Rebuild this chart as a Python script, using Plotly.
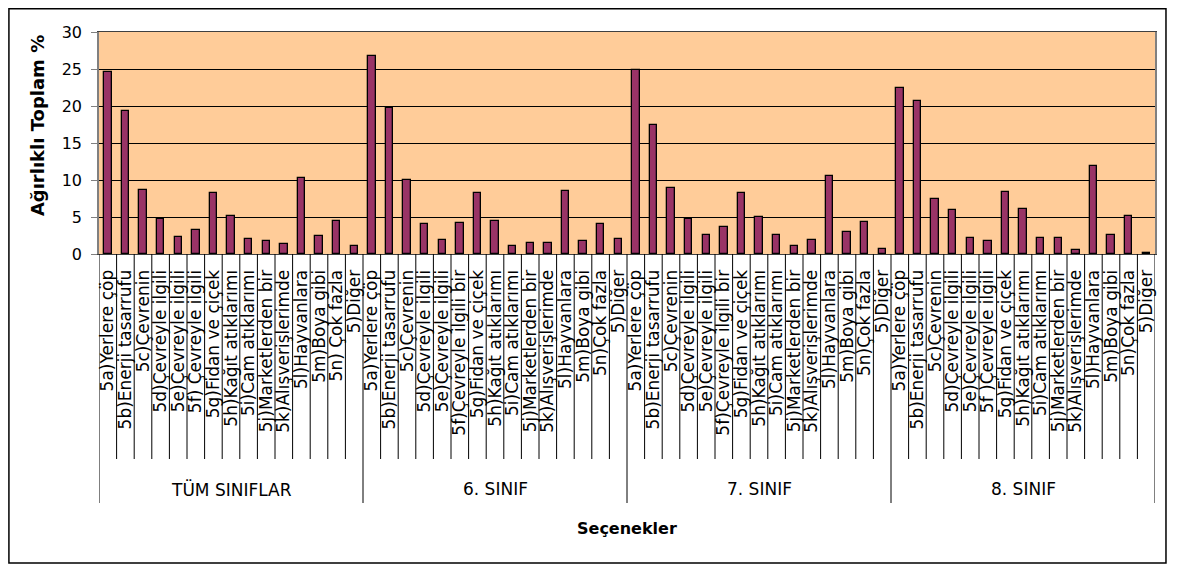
import plotly.graph_objects as go

groups = ["TÜM SINIFLAR", "6. SINIF", "7. SINIF", "8. SINIF"]

labels_tum = ["5a)Yerlere çöp", "5b)Enerji tasarrufu", "5c)Çevrenin", "5d)Çevreyle ilgili",
              "5e)Çevreyle ilgili", "5f) Çevreyle ilgili", "5g)Fidan ve çiçek", "5h)Kağıt atıklarımı",
              "5i)Cam atıklarımı", "5j)Marketlerden bir", "5k)Alışverişlerimde", "5l)Hayvanlara",
              "5m)Boya gibi", "5n) Çok fazla", "5)Diğer"]
labels_6 = ["5a)Yerlere çöp", "5b)Enerji tasarrufu", "5c)Çevrenin", "5d)Çevreyle ilgili",
            "5e)Çevreyle ilgili", "5f)Çevreyle ilgili bir", "5g)Fidan ve çiçek", "5h)Kağıt atıklarımı",
            "5i)Cam atıklarımı", "5j)Marketlerden bir", "5k)Alışverişlerimde", "5l)Hayvanlara",
            "5m)Boya gibi", "5n)Çok fazla", "5)Diğer"]
labels_7 = ["5a)Yerlere çöp", "5b)Enerji tasarrufu", "5c)Çevrenin", "5d)Çevreyle ilgili",
            "5e)Çevreyle ilgili", "5f)Çevreyle ilgili bir", "5g)Fidan ve çiçek", "5h)Kağıt atıklarımı",
            "5i)Cam atıklarımı", "5j)Marketlerden bir", "5k)Alışverişlerimde", "5l)Hayvanlara",
            "5m)Boya gibi", "5n)Çok fazla", "5)Diğer"]
labels_8 = ["5a)Yerlere çöp", "5b)Enerji tasarrufu", "5c)Çevrenin", "5d)Çevreyle ilgili",
            "5e)Çevreyle ilgili", "5f )Çevreyle ilgili", "5g)Fidan ve çiçek", "5h)Kağıt atıklarımı",
            "5i)Cam atıklarımı", "5j)Marketlerden bir", "5k)Alışverişlerimde", "5l)Hayvanlara",
            "5m)Boya gibi", "5n)Çok fazla", "5)Diğer"]

values_tum = [24.6, 19.3, 8.7, 4.7, 2.3, 3.2, 8.2, 5.1, 2.0, 1.7, 1.3, 10.3, 2.4, 4.4, 1.1]
values_6 = [26.75, 19.7, 10.0, 4.0, 1.85, 4.2, 8.2, 4.5, 1.1, 1.5, 1.5, 8.5, 1.7, 4.0, 2.0]
values_7 = [24.85, 17.4, 8.95, 4.75, 2.6, 3.6, 8.2, 5.0, 2.6, 1.1, 1.85, 10.5, 3.0, 4.3, 0.7]
values_8 = [22.4, 20.65, 7.4, 5.9, 2.2, 1.7, 8.4, 6.05, 2.2, 2.2, 0.5, 11.85, 2.6, 5.1, 0.15]

y_ticks = [0, 5, 10, 15, 20, 25, 30]

all_labels = labels_tum + labels_6 + labels_7 + labels_8
all_values = values_tum + values_6 + values_7 + values_8
xpos = list(range(len(all_values)))
n_per = len(labels_tum)

# page is offset by the 8px default body margin; work in page pixels, convert to figure
OFF = 8
W, H = 1161, 556
L, R, T, B = 99 - OFF, 1157 - OFF, 32 - OFF, 254 - OFF
pw, ph = R - L, B - T


def py(page_pix):
    return (B - (page_pix - OFF)) / ph


def px(page_pix):
    return ((page_pix - OFF) - L) / pw


FONT = "DejaVu Sans"

fig = go.Figure()
fig.add_trace(go.Bar(
    x=xpos, y=all_values, width=0.42,
    marker=dict(color="#993366", line=dict(color="#000000", width=1.3)),
    showlegend=False,
))

shapes = []
for i in range(len(all_values) + 1):
    is_group = (i % n_per == 0)
    shapes.append(dict(type="line", xref="x", yref="paper",
                       x0=i - 0.5, x1=i - 0.5, y0=0, y1=py(503 if is_group else 459),
                       line=dict(color="#000000", width=1)))
# outer chart border
shapes.append(dict(type="rect", xref="paper", yref="paper",
                   x0=px(8.75), x1=px(1168), y0=py(563), y1=py(8.75),
                   line=dict(color="#000000", width=1.5), fillcolor="rgba(0,0,0,0)"))

annotations = []
for g, name in enumerate(groups):
    annotations.append(dict(text=name, xref="x", yref="paper", x=g * n_per + (n_per - 1) / 2,
                            y=py(489), showarrow=False, xanchor="center", yanchor="middle",
                            font=dict(family=FONT, size=17, color="#000000")))
annotations.append(dict(text="<b>Seçenekler</b>", xref="paper", yref="paper", x=0.5, y=py(528),
                        showarrow=False, xanchor="center", yanchor="middle",
                        font=dict(family=FONT, size=16, color="#000000")))
annotations.append(dict(text="<b>Ağırlıklı Toplam %</b>", xref="paper", yref="paper", x=px(37),
                        y=py(126), showarrow=False, xanchor="center", yanchor="middle", textangle=-90,
                        font=dict(family=FONT, size=18, color="#000000")))

fig.update_layout(
    width=W, height=H,
    margin=dict(l=L, r=W - R, t=T, b=H - B, pad=0),
    paper_bgcolor="#FFFFFF",
    plot_bgcolor="#FFCC99",
    bargap=0,
    shapes=shapes,
    annotations=annotations,
    xaxis=dict(
        range=[-0.5, len(all_values) - 0.5],
        tickmode="array", tickvals=xpos, ticktext=all_labels,
        tickangle=-90, ticks="", showgrid=False, zeroline=False,
        showline=True, linecolor="#404040", linewidth=1, mirror=True,
        tickfont=dict(family=FONT, size=17, color="#000000"),
        ticklabelstandoff=8,
    ),
    yaxis=dict(
        range=[0, 30], tickmode="array", tickvals=y_ticks,
        ticks="outside", ticklen=6, tickcolor="#808080",
        showgrid=True, gridcolor="#000000", gridwidth=1, zeroline=False,
        showline=True, linecolor="#808080", linewidth=1.5, mirror=True,
        tickfont=dict(family=FONT, size=16, color="#000000"),
        ticklabelstandoff=6,
    ),
)

fig.write_html("out.html")
